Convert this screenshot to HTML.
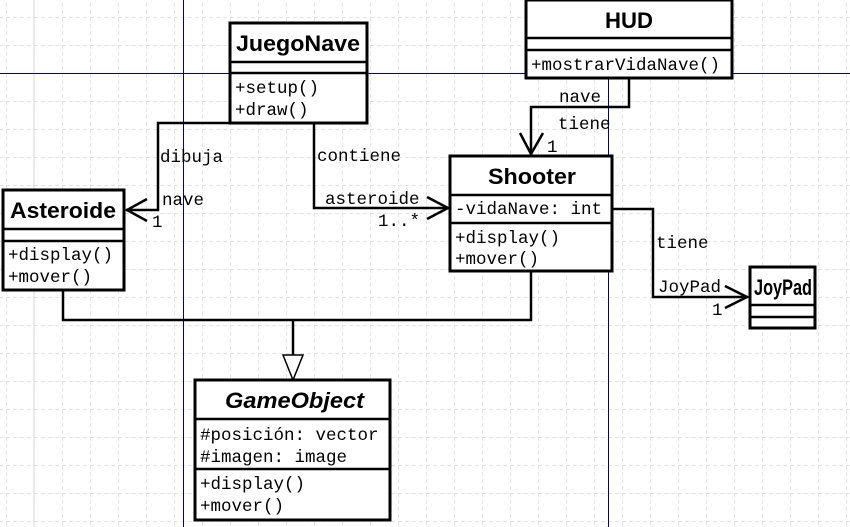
<!DOCTYPE html>
<html><head><meta charset="utf-8"><style>
html,body{margin:0;padding:0;background:#fff;}
svg{display:block;}
.t{font-family:"Liberation Sans",sans-serif;font-weight:bold;font-size:22px;fill:#000;}
.m{font-family:"Liberation Mono",monospace;font-size:17.5px;fill:#000;}
.b{fill:#fff;stroke:#000;stroke-width:3;}
.l{fill:none;stroke:#000;stroke-width:2.5;}
</style></head><body>
<svg width="850" height="527" xmlns="http://www.w3.org/2000/svg">
<defs>
<pattern id="g" x="6" y="17" width="28" height="28" patternUnits="userSpaceOnUse">
<path d="M0 0V28M0 0H28" stroke="#d4d4d4" stroke-width="1.2" stroke-dasharray="4,3" fill="none"/>
</pattern>
</defs>
<rect width="850" height="527" fill="#fff"/>
<rect width="850" height="527" fill="url(#g)"/>
<line x1="34" y1="0" x2="34" y2="527" stroke="#d8d8d8" stroke-width="1"/>
<line x1="183.5" y1="0" x2="183.5" y2="527" stroke="#000080" stroke-width="1"/>
<line x1="608.5" y1="0" x2="608.5" y2="527" stroke="#000080" stroke-width="1"/>
<line x1="0" y1="73.5" x2="850" y2="73.5" stroke="#000080" stroke-width="1"/>

<polyline class="l" points="230,123 158,123 158,210 126,210"/>
<polyline class="l" points="147,199 127,210 147,221"/>
<text class="m" x="160" y="162">dibuja</text>
<text class="m" x="162" y="205">nave</text>
<text class="m" x="152" y="227">1</text>

<polyline class="l" points="314,123 314,208 448,208"/>
<polyline class="l" points="427,197 448,208 427,219"/>
<text class="m" x="317" y="161">contiene</text>
<text class="m" x="325" y="204">asteroide</text>
<text class="m" x="378" y="226">1..*</text>

<polyline class="l" points="629,78 629,107 531,107 531,154"/>
<polyline class="l" points="520,133 531,154 543,133"/>
<text class="m" x="559" y="102">nave</text>
<text class="m" x="558" y="129">tiene</text>
<text class="m" x="547" y="152">1</text>

<polyline class="l" points="612,209 653,209 653,297 748,297"/>
<polyline class="l" points="725,286 747,297 725,308"/>
<text class="m" x="656" y="248">tiene</text>
<text class="m" x="658" y="292">JoyPad</text>
<text class="m" x="712" y="315">1</text>

<polyline class="l" points="63,290 63,320 531,320 531,271"/>
<line class="l" x1="293" y1="320" x2="293" y2="356"/>
<polygon points="283,355 303,355 293,380" fill="#fff" stroke="#000" stroke-width="1.5"/>

<rect class="b" x="230" y="23" width="137" height="100"/>
<line class="l" x1="230" y1="62" x2="367" y2="62"/>
<line class="l" x1="230" y1="73" x2="367" y2="73"/>
<text class="t" x="236" y="51" textLength="124" lengthAdjust="spacingAndGlyphs">JuegoNave</text>
<text class="m" x="235" y="93">+setup()</text>
<text class="m" x="235" y="115">+draw()</text>

<rect class="b" x="526" y="0" width="206" height="78"/>
<line class="l" x1="526" y1="38" x2="732" y2="38"/>
<line class="l" x1="526" y1="50" x2="732" y2="50"/>
<text class="t" x="605" y="28" textLength="48" lengthAdjust="spacingAndGlyphs">HUD</text>
<text class="m" x="531" y="70">+mostrarVidaNave()</text>

<rect class="b" x="450" y="156" width="162" height="115"/>
<line class="l" x1="450" y1="195" x2="612" y2="195"/>
<line class="l" x1="450" y1="223" x2="612" y2="223"/>
<text class="t" x="488" y="184" textLength="88" lengthAdjust="spacingAndGlyphs">Shooter</text>
<text class="m" x="455" y="214">-vidaNave: int</text>
<text class="m" x="455" y="243">+display()</text>
<text class="m" x="455" y="264">+mover()</text>

<rect class="b" x="3" y="190" width="121" height="100"/>
<line class="l" x1="3" y1="229" x2="124" y2="229"/>
<line class="l" x1="3" y1="241" x2="124" y2="241"/>
<text class="t" x="10" y="218" textLength="106" lengthAdjust="spacingAndGlyphs">Asteroide</text>
<text class="m" x="8" y="260">+display()</text>
<text class="m" x="8" y="282">+mover()</text>

<rect class="b" x="750" y="267" width="65" height="61"/>
<line class="l" x1="750" y1="305" x2="815" y2="305"/>
<line class="l" x1="750" y1="317" x2="815" y2="317"/>
<text class="t" x="754" y="295" font-size="20" textLength="58" lengthAdjust="spacingAndGlyphs">JoyPad</text>

<rect class="b" x="195" y="380" width="195" height="140"/>
<line class="l" x1="195" y1="419" x2="390" y2="419"/>
<line class="l" x1="195" y1="469" x2="390" y2="469"/>
<text class="t" x="225" y="408" font-style="italic" textLength="139" lengthAdjust="spacingAndGlyphs">GameObject</text>
<text class="m" x="200" y="440">#posición: vector</text>
<text class="m" x="200" y="462">#imagen: image</text>
<text class="m" x="200" y="489">+display()</text>
<text class="m" x="200" y="511">+mover()</text>
</svg>
</body></html>
